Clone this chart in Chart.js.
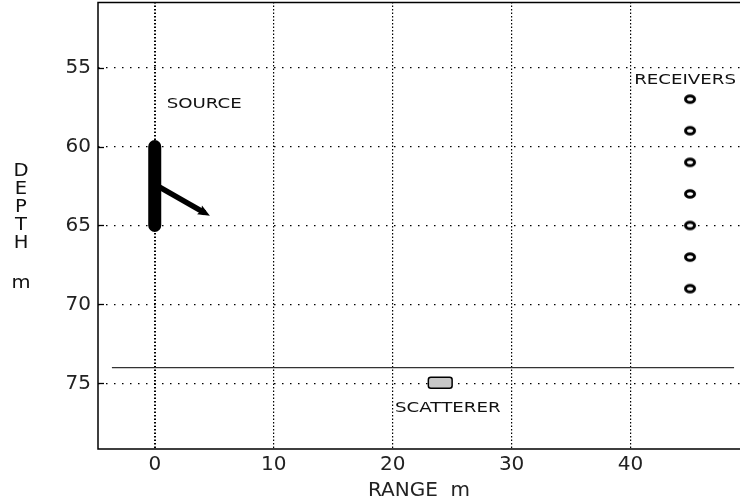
<!DOCTYPE html>
<html>
<head>
<meta charset="utf-8">
<script src="https://cdn.jsdelivr.net/npm/chart.js@4/dist/chart.umd.min.js"></script>
<style>
  html, body { margin: 0; padding: 0; background: #fff; }
  canvas { display: block; }
</style>
</head>
<body>
<canvas id="c" width="740" height="503"></canvas>
<script>
// Axis tick values
const rangeTicks = [0, 10, 20, 30, 40];
const depthTicks = [55, 60, 65, 70, 75];

// Source array (vertical line at range 0)
const sourceRange = [0, 0];
const sourceDepth = [60, 65];

// Steered beam from the source
const beamRange = [0, 4.2];
const beamDepth = [62.4, 64.2];

// Receiver array
const receiverRange = 45;
const receiverDepth = [57, 59, 61, 63, 65, 67, 69];

// Bottom interface
const bottomRange = [-3.6, 48.7];
const bottomDepth = [74, 74];

// Scatterer box (range and depth extents)
const scattererRange = [23, 25];
const scattererDepth = [74.6, 75.3];

// Annotations
const noteText = ['SOURCE', 'RECEIVERS', 'SCATTERER'];
const noteRange = [1.0, 40.3, 20.2];
const noteDepth = [57.35, 55.8, 76.6];

const FONT = '"DejaVu Sans", sans-serif';

function pts(xs, ys) {
  return xs.map((x, i) => ({ x: x, y: ys[i] }));
}

// Small elliptical ring marker used for the receivers
function ringMarker() {
  const c = document.createElement('canvas');
  c.width = 14; c.height = 12;
  const g = c.getContext('2d');
  g.fillStyle = '#fff';
  g.strokeStyle = '#000';
  g.lineWidth = 3;
  g.beginPath();
  g.ellipse(7, 6, 4.5, 3.3, 0, 0, Math.PI * 2);
  g.fill();
  g.stroke();
  return c;
}

const sceneryPlugin = {
  id: 'scenery',
  beforeDatasetsDraw(chart) {
    const { ctx, chartArea: a } = chart;
    const ys = chart.scales.y;
    // short inner tick marks on the depth axis
    ctx.save();
    ctx.strokeStyle = '#000';
    ctx.lineWidth = 1.3;
    ys.ticks.forEach(t => {
      const py = Math.round(ys.getPixelForValue(t.value)) + 0.5;
      ctx.beginPath();
      ctx.moveTo(a.left, py);
      ctx.lineTo(a.left + 6, py);
      ctx.stroke();
    });
    ctx.restore();
  },
  afterDatasetsDraw(chart) {
    const { ctx, chartArea: a } = chart;
    const xs = chart.scales.x, ys = chart.scales.y;

    // beam arrow head
    const x0 = xs.getPixelForValue(beamRange[0]), y0 = ys.getPixelForValue(beamDepth[0]);
    const x1 = xs.getPixelForValue(beamRange[1]), y1 = ys.getPixelForValue(beamDepth[1]);
    const ang = Math.atan2(y1 - y0, x1 - x0);
    ctx.save();
    ctx.translate(x1, y1);
    ctx.rotate(ang);
    ctx.fillStyle = '#000';
    ctx.beginPath();
    ctx.moveTo(6, 0);
    ctx.lineTo(-6, -5);
    ctx.lineTo(-4, 0);
    ctx.lineTo(-6, 5);
    ctx.closePath();
    ctx.fill();
    ctx.restore();

    // scatterer box
    const sx0 = xs.getPixelForValue(scattererRange[0]);
    const sx1 = xs.getPixelForValue(scattererRange[1]);
    const sy0 = ys.getPixelForValue(scattererDepth[0]);
    const sy1 = ys.getPixelForValue(scattererDepth[1]);
    ctx.save();
    ctx.fillStyle = '#c8c8c8';
    ctx.strokeStyle = '#000';
    ctx.lineWidth = 1.5;
    ctx.beginPath();
    ctx.roundRect(sx0, sy0, sx1 - sx0, sy1 - sy0, 2.5);
    ctx.fill();
    ctx.stroke();
    ctx.restore();

    // annotations
    ctx.save();
    ctx.fillStyle = '#111';
    ctx.font = '14px ' + FONT;
    ctx.textBaseline = 'middle';
    ctx.textAlign = 'left';
    noteText.forEach((t, i) => {
      const px = xs.getPixelForValue(noteRange[i]);
      const py = ys.getPixelForValue(noteDepth[i]);
      ctx.save();
      ctx.translate(px, py);
      ctx.scale(1.3, 1);
      ctx.fillText(t, 0, 0);
      ctx.restore();
    });
    ctx.restore();

    // frame: left, bottom and top edges
    ctx.save();
    ctx.strokeStyle = '#000';
    ctx.lineWidth = 1.5;
    ctx.beginPath();
    ctx.moveTo(a.right, a.top + 0.5);
    ctx.lineTo(a.left, a.top + 0.5);
    ctx.lineTo(a.left, a.bottom);
    ctx.lineTo(a.right, a.bottom);
    ctx.stroke();
    ctx.restore();

    // stacked depth-axis title
    ctx.save();
    ctx.fillStyle = '#111';
    ctx.font = '17px ' + FONT;
    ctx.textAlign = 'center';
    ctx.textBaseline = 'middle';
    const letters = ['D', 'E', 'P', 'T', 'H'];
    letters.forEach((l, i) => {
      ctx.save();
      ctx.translate(21, 172 + i * 18);
      ctx.scale(1.15, 1);
      ctx.fillText(l, 0, 0);
      ctx.restore();
    });
    ctx.save();
    ctx.translate(21, 284);
    ctx.scale(1.15, 1);
    ctx.fillText('m', 0, 0);
    ctx.restore();
    ctx.restore();
  }
};

new Chart(document.getElementById('c'), {
  type: 'scatter',
  data: {
    datasets: [
      {
        type: 'line',
        data: pts(bottomRange, bottomDepth),
        borderColor: '#333',
        borderWidth: 1.3,
        pointRadius: 0,
        showLine: true
      },
      {
        type: 'line',
        data: pts(sourceRange, sourceDepth),
        borderColor: '#000',
        borderWidth: 13,
        borderCapStyle: 'round',
        pointRadius: 0,
        showLine: true
      },
      {
        type: 'line',
        data: pts(beamRange, beamDepth),
        borderColor: '#000',
        borderWidth: 5.5,
        borderCapStyle: 'butt',
        pointRadius: 0,
        showLine: true
      },
      {
        data: receiverDepth.map(d => ({ x: receiverRange, y: d })),
        pointStyle: ringMarker(),
        pointRadius: 5
      }
    ]
  },
  options: {
    responsive: false,
    animation: false,
    devicePixelRatio: 1,
    layout: { autoPadding: false, padding: { top: 2, right: 0, left: 0, bottom: 0 } },
    plugins: {
      legend: { display: false },
      tooltip: { enabled: false }
    },
    scales: {
      x: {
        type: 'linear',
        min: -4.77,
        max: 49.2,
        afterBuildTicks: s => { s.ticks = rangeTicks.map(v => ({ value: v })); },
        afterFit: s => { s.height = 54; s.paddingLeft = 0; s.paddingRight = 0; },
        grid: {
          color: '#000',
          lineWidth: c => (c.tick && c.tick.value === 0 ? 2 : 1.2),
          drawTicks: false
        },
        border: { display: false, dash: [1.5, 2] },
        ticks: {
          padding: 4,
          color: '#222',
          font: { family: FONT, size: 20 },
          callback: v => String(v)
        },
        title: {
          display: true,
          text: 'RANGE  m',
          color: '#222',
          font: { family: FONT, size: 20 },
          padding: { top: 0, bottom: 0 }
        }
      },
      y: {
        type: 'linear',
        reverse: true,
        min: 50.85,
        max: 79.15,
        afterBuildTicks: s => { s.ticks = depthTicks.map(v => ({ value: v })); },
        afterFit: s => { s.width = 98; s.paddingTop = 0; s.paddingBottom = 0; },
        grid: { color: '#000', lineWidth: 1.2, drawTicks: false },
        border: { display: false, dash: [1.5, 6.5] },
        ticks: {
          padding: 7,
          color: '#222',
          font: { family: FONT, size: 20 },
          callback: v => String(v)
        }
      }
    }
  },
  plugins: [sceneryPlugin]
});
</script>
</body>
</html>
